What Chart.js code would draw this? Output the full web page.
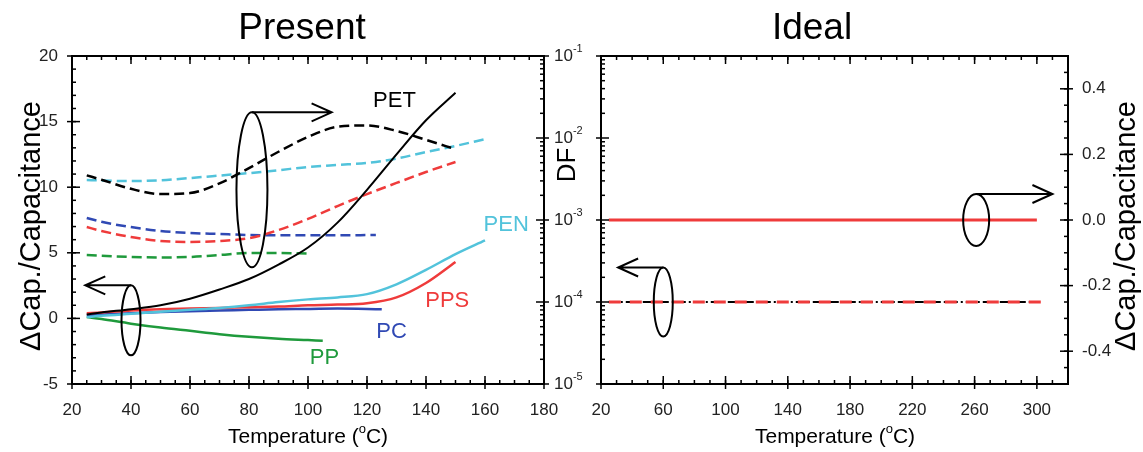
<!DOCTYPE html>
<html>
<head>
<meta charset="utf-8">
<script src="https://cdn.jsdelivr.net/npm/chart.js@4.4.1/dist/chart.umd.min.js"></script>
<style>
  html, body { margin: 0; padding: 0; background: #fff; }
  #wrap { position: relative; width: 1143px; height: 452px; }
  canvas { position: absolute; top: 0; }
  #present { left: 0; }
  #ideal { left: 560px; }
</style>
</head>
<body>
<div id="wrap">
  <canvas id="present" width="600" height="452"></canvas>
  <canvas id="ideal" width="583" height="452"></canvas>
</div>
<script>
// tick labels
const xTicksPresent = [20, 40, 60, 80, 100, 120, 140, 160, 180];
const capTicksPresent = [-5, 0, 5, 10, 15, 20];
const dfTicks = [1e-5, 1e-4, 1e-3, 1e-2, 1e-1];
const xTicksIdeal = [20, 60, 100, 140, 180, 220, 260, 300];
const capTicksIdeal = [-0.4, -0.2, 0.0, 0.2, 0.4];

// Present: solid = dCap/Cap (left axis), dashed = DF (right axis, log)
const petT   = [25, 30, 40, 50, 60, 70, 80, 90, 100, 110, 120, 130, 140, 150];
const petCap = [0.3, 0.45, 0.7, 1.0, 1.5, 2.2, 3.0, 4.1, 5.4, 7.3, 9.8, 12.5, 15.1, 17.2];
const petDF  = [3.5e-3, 3.1e-3, 2.4e-3, 2.07e-3, 2.13e-3, 2.8e-3, 4.3e-3, 6.8e-3, 1.03e-2, 1.37e-2, 1.42e-2, 1.22e-2, 9.5e-3, 7.3e-3];

const penT   = [25, 30, 40, 50, 60, 70, 80, 90, 100, 110, 120, 130, 140, 150, 160];
const penCap = [0.1, 0.2, 0.35, 0.5, 0.65, 0.8, 1.0, 1.25, 1.45, 1.6, 1.85, 2.6, 3.7, 4.9, 5.95];
const penDF  = [3.08e-3, 3.03e-3, 2.98e-3, 3.05e-3, 3.25e-3, 3.48e-3, 3.73e-3, 4.05e-3, 4.43e-3, 4.7e-3, 4.96e-3, 5.6e-3, 6.75e-3, 8.0e-3, 9.7e-3];

const ppsT   = [25, 30, 40, 50, 60, 70, 80, 90, 100, 110, 120, 130, 140, 150];
const ppsCap = [0.4, 0.45, 0.6, 0.7, 0.75, 0.8, 0.85, 0.9, 1.0, 1.05, 1.15, 1.6, 2.7, 4.3];
const ppsDF  = [8.2e-4, 7.35e-4, 6.2e-4, 5.55e-4, 5.4e-4, 5.55e-4, 6.0e-4, 7.55e-4, 1.03e-3, 1.48e-3, 2.07e-3, 2.83e-3, 3.85e-3, 5.1e-3];

const pcT    = [25, 30, 40, 50, 60, 70, 80, 90, 100, 110, 125];
const pcCap  = [0.25, 0.3, 0.4, 0.48, 0.55, 0.6, 0.65, 0.7, 0.72, 0.75, 0.7];
const pcDfT  = [25, 30, 40, 50, 60, 70, 80, 90, 100, 110, 123];
const pcDF   = [1.06e-3, 9.5e-4, 8.2e-4, 7.35e-4, 6.95e-4, 6.75e-4, 6.56e-4, 6.5e-4, 6.5e-4, 6.5e-4, 6.56e-4];

const ppT    = [25, 30, 40, 50, 60, 70, 80, 90, 100, 105];
const ppCap  = [0.1, -0.05, -0.4, -0.7, -0.95, -1.2, -1.4, -1.55, -1.65, -1.7];
const ppDfT  = [25, 40, 50, 60, 70, 80, 90, 100];
const ppDF   = [3.74e-4, 3.54e-4, 3.49e-4, 3.54e-4, 3.74e-4, 3.96e-4, 3.96e-4, 3.9e-4];

// Ideal
const idealCapT = [25, 300];
const idealCap  = [0, 0];
const idealDfT  = [25, 305];
const idealDF   = [1e-4, 1e-4];

const FONT = '"Liberation Sans", Arial, Helvetica, sans-serif';
const BLACK = '#000000', CYAN = '#52c3db', RED = '#ef3b3b', BLUE = '#3049b4', GREEN = '#1f9a3c';

function pts(xs, ys) { return xs.map((x, i) => ({ x: x, y: ys[i] })); }
function range(a, b, s) { const r = []; for (let v = a; v <= b + 1e-9; v += s) r.push(+v.toFixed(4)); return r; }
function logMinor() { const r = []; for (let d = -5; d <= -2; d++) for (let m = 2; m <= 9; m++) r.push(m * Math.pow(10, d)); return r; }

function rich(ctx, segs, x, y, align, rot) {
  ctx.save();
  ctx.translate(x, y);
  if (rot) ctx.rotate(rot);
  let w = 0;
  segs.forEach(s => { ctx.font = s.size + 'px ' + FONT; s.w = ctx.measureText(s.t).width; w += s.w; });
  let cx = align === 'left' ? 0 : align === 'right' ? -w : -w / 2;
  ctx.textBaseline = 'middle';
  ctx.textAlign = 'left';
  segs.forEach(s => {
    ctx.font = s.size + 'px ' + FONT;
    ctx.fillStyle = s.color || '#000';
    ctx.fillText(s.t, cx, s.dy || 0);
    cx += s.w;
  });
  ctx.restore();
}

function makeDeco(cfg) {
  return {
    id: 'deco',
    afterDraw(chart) {
      const ctx = chart.ctx, a = chart.chartArea;
      ctx.save();
      ctx.strokeStyle = '#000';
      ctx.lineWidth = 2;
      ctx.strokeRect(a.left, a.top, a.right - a.left, a.bottom - a.top);
      ctx.lineWidth = 1.5;
      cfg.ticks.forEach(t => {
        const s = chart.scales[t.scale];
        t.values.forEach(v => {
          const p = s.getPixelForValue(v);
          ctx.beginPath();
          if (t.side === 'bottom') { ctx.moveTo(p, a.bottom + t.out); ctx.lineTo(p, a.bottom - t.in); }
          if (t.side === 'top') { ctx.moveTo(p, a.top - t.out); ctx.lineTo(p, a.top + t.in); }
          if (t.side === 'left') { ctx.moveTo(a.left - t.out, p); ctx.lineTo(a.left + t.in, p); }
          if (t.side === 'right') { ctx.moveTo(a.right + t.out, p); ctx.lineTo(a.right - t.in, p); }
          ctx.stroke();
        });
      });
      // decade labels of the DF axis
      if (cfg.logLabels) {
        const s = chart.scales[cfg.logLabels];
        dfTicks.forEach(v => {
          const e = Math.round(Math.log10(v));
          rich(ctx, [{ t: '10', size: 17, color: '#222' }, { t: String(e), size: 11, dy: -7, color: '#222' }],
            a.right + 10, s.getPixelForValue(v), 'left');
        });
      }
      // ellipse + arrow markers
      ctx.lineWidth = 2;
      cfg.markers.forEach(m => {
        const cx = chart.scales.x.getPixelForValue(m.cx), cy = chart.scales[m.y].getPixelForValue(m.cy);
        ctx.beginPath();
        ctx.ellipse(cx, cy, m.rx, m.ry, 0, 0, Math.PI * 2);
        ctx.stroke();
        const top = cy - m.ry, tx = chart.scales.x.getPixelForValue(m.toX), d = tx > cx ? -1 : 1;
        ctx.beginPath();
        ctx.moveTo(cx, top); ctx.lineTo(tx, top);
        ctx.moveTo(tx + d * 20, top - 9); ctx.lineTo(tx, top); ctx.lineTo(tx + d * 20, top + 9);
        ctx.stroke();
      });
      // curve names
      cfg.names.forEach(n => {
        rich(ctx, [{ t: n.t, size: 22, color: n.color }],
          chart.scales.x.getPixelForValue(n.x), chart.scales[n.y].getPixelForValue(n.v), 'center');
      });
      cfg.texts.forEach(t => rich(ctx, t.segs, t.x, t.y, 'center', t.rot || 0));
      ctx.restore();
    }
  };
}

function line(data, color, axis, dashed, width) {
  return {
    data: data, yAxisID: axis, borderColor: color, borderWidth: width || 2.5,
    borderDash: dashed || [], pointRadius: 0, cubicInterpolationMode: 'monotone', fill: false
  };
}

const tickFont = { family: FONT, size: 17 };
const tempTitle = [{ t: 'Temperature (', size: 21 }, { t: 'o', size: 13, dy: -8 }, { t: 'C)', size: 21 }];
const capTitle = [{ t: '\u0394Cap./Capacitance', size: 29 }];
const dash = [10, 5];

// first dataset is drawn on top
new Chart(document.getElementById('present'), {
  type: 'line',
  data: {
    datasets: [
      line(pts(petT, petCap), BLACK, 'y', [], 2),
      line(pts(penT, penCap), CYAN, 'y'),
      line(pts(ppsT, ppsCap), RED, 'y'),
      line(pts(pcT, pcCap), BLUE, 'y'),
      line(pts(ppT, ppCap), GREEN, 'y'),
      line(pts(petT, petDF), BLACK, 'df', dash),
      line(pts(penT, penDF), CYAN, 'df', dash),
      line(pts(ppsT, ppsDF), RED, 'df', dash),
      line(pts(pcDfT, pcDF), BLUE, 'df', dash),
      line(pts(ppDfT, ppDF), GREEN, 'df', dash)
    ]
  },
  options: {
    responsive: false,
    animation: false,
    layout: { padding: { top: 56, left: 0, right: 0, bottom: 0 } },
    plugins: { legend: { display: false }, tooltip: { enabled: false } },
    scales: {
      x: {
        type: 'linear', min: 20, max: 180,
        afterBuildTicks: s => { s.ticks = xTicksPresent.map(v => ({ value: v })); },
        afterFit: s => { s.height = 68; },
        ticks: { font: tickFont, color: '#222', padding: 16, maxRotation: 0, autoSkip: false },
        grid: { display: false, drawTicks: false }, border: { display: false }
      },
      y: {
        type: 'linear', position: 'left', min: -5, max: 20,
        afterBuildTicks: s => { s.ticks = capTicksPresent.map(v => ({ value: v })); },
        afterFit: s => { s.width = 72; },
        ticks: { font: tickFont, color: '#222', padding: 14 },
        grid: { display: false, drawTicks: false }, border: { display: false }
      },
      df: {
        type: 'logarithmic', position: 'right', min: 1e-5, max: 1e-1,
        afterBuildTicks: s => { s.ticks = dfTicks.map(v => ({ value: v })); },
        afterFit: s => { s.width = 56; },
        ticks: { display: false },
        grid: { display: false, drawTicks: false }, border: { display: false }
      }
    }
  },
  plugins: [makeDeco({
    ticks: [
      { scale: 'x', side: 'bottom', values: xTicksPresent, in: 8, out: 5 },
      { scale: 'x', side: 'bottom', values: range(20, 180, 5), in: 4, out: 0 },
      { scale: 'x', side: 'top', values: xTicksPresent, in: 8, out: 0 },
      { scale: 'x', side: 'top', values: range(20, 180, 5), in: 4, out: 0 },
      { scale: 'y', side: 'left', values: capTicksPresent, in: 8, out: 5 },
      { scale: 'y', side: 'left', values: range(-5, 20, 1), in: 4, out: 0 },
      { scale: 'df', side: 'right', values: dfTicks, in: 8, out: 5 },
      { scale: 'df', side: 'right', values: logMinor(), in: 4, out: 0 }
    ],
    logLabels: 'df',
    markers: [
      { cx: 81, cy: 9.8, y: 'y', rx: 15.5, ry: 77.5, toX: 108 },
      { cx: 40, cy: -0.15, y: 'y', rx: 9.5, ry: 35, toX: 24.5 }
    ],
    names: [
      { t: 'PET', x: 129.3, v: 16.6, y: 'y', color: BLACK },
      { t: 'PEN', x: 167.2, v: 7.1, y: 'y', color: CYAN },
      { t: 'PPS', x: 147.2, v: 1.3, y: 'y', color: RED },
      { t: 'PC', x: 128.3, v: -1.0, y: 'y', color: BLUE },
      { t: 'PP', x: 105.6, v: -3.05, y: 'y', color: GREEN }
    ],
    texts: [
      { segs: [{ t: 'Present', size: 37 }], x: 302, y: 29 },
      { segs: capTitle, x: 32, y: 226, rot: -Math.PI / 2 },
      { segs: [{ t: 'DF', size: 26 }], x: 568, y: 165, rot: -Math.PI / 2 },
      { segs: tempTitle, x: 308, y: 437 }
    ]
  })]
});

new Chart(document.getElementById('ideal'), {
  type: 'line',
  data: {
    datasets: [
      line(pts(idealCapT, idealCap), RED, 'cap', [], 3),
      line(pts(idealDfT, idealDF), RED, 'df', [12, 9], 3),
      line(pts(idealCapT, idealDF), BLACK, 'df', [9, 3, 2, 3], 2)
    ]
  },
  options: {
    responsive: false,
    animation: false,
    layout: { padding: { top: 56, left: 0, right: 0, bottom: 0 } },
    plugins: { legend: { display: false }, tooltip: { enabled: false } },
    scales: {
      x: {
        type: 'linear', min: 20, max: 320,
        afterBuildTicks: s => { s.ticks = xTicksIdeal.map(v => ({ value: v })); },
        afterFit: s => { s.height = 68; },
        ticks: { font: tickFont, color: '#222', padding: 16, maxRotation: 0, autoSkip: false },
        grid: { display: false, drawTicks: false }, border: { display: false }
      },
      df: {
        type: 'logarithmic', position: 'left', min: 1e-5, max: 1e-1,
        afterBuildTicks: s => { s.ticks = dfTicks.map(v => ({ value: v })); },
        afterFit: s => { s.width = 41; },
        ticks: { display: false },
        grid: { display: false, drawTicks: false }, border: { display: false }
      },
      cap: {
        type: 'linear', position: 'right', min: -0.5, max: 0.5,
        afterBuildTicks: s => { s.ticks = capTicksIdeal.map(v => ({ value: v })); },
        afterFit: s => { s.width = 75; },
        ticks: { font: tickFont, color: '#222', padding: 14, callback: v => v.toFixed(1) },
        grid: { display: false, drawTicks: false }, border: { display: false }
      }
    }
  },
  plugins: [makeDeco({
    ticks: [
      { scale: 'x', side: 'bottom', values: xTicksIdeal, in: 8, out: 5 },
      { scale: 'x', side: 'bottom', values: range(20, 320, 10), in: 4, out: 0 },
      { scale: 'x', side: 'top', values: xTicksIdeal, in: 8, out: 0 },
      { scale: 'x', side: 'top', values: range(20, 320, 10), in: 4, out: 0 },
      { scale: 'df', side: 'left', values: dfTicks, in: 8, out: 5 },
      { scale: 'df', side: 'left', values: logMinor(), in: 4, out: 0 },
      { scale: 'cap', side: 'right', values: capTicksIdeal, in: 8, out: 5 },
      { scale: 'cap', side: 'right', values: range(-0.5, 0.5, 0.05), in: 4, out: 0 }
    ],
    logLabels: null,
    markers: [
      { cx: 261, cy: 0, y: 'cap', rx: 13, ry: 26, toX: 310 },
      { cx: 60, cy: 1e-4, y: 'df', rx: 9.5, ry: 34.5, toX: 31 }
    ],
    names: [],
    texts: [
      { segs: [{ t: 'Ideal', size: 37 }], x: 252, y: 29 },
      { segs: capTitle, x: 567, y: 226, rot: -Math.PI / 2 },
      { segs: tempTitle, x: 275, y: 437 }
    ]
  })]
});
</script>
</body>
</html>
